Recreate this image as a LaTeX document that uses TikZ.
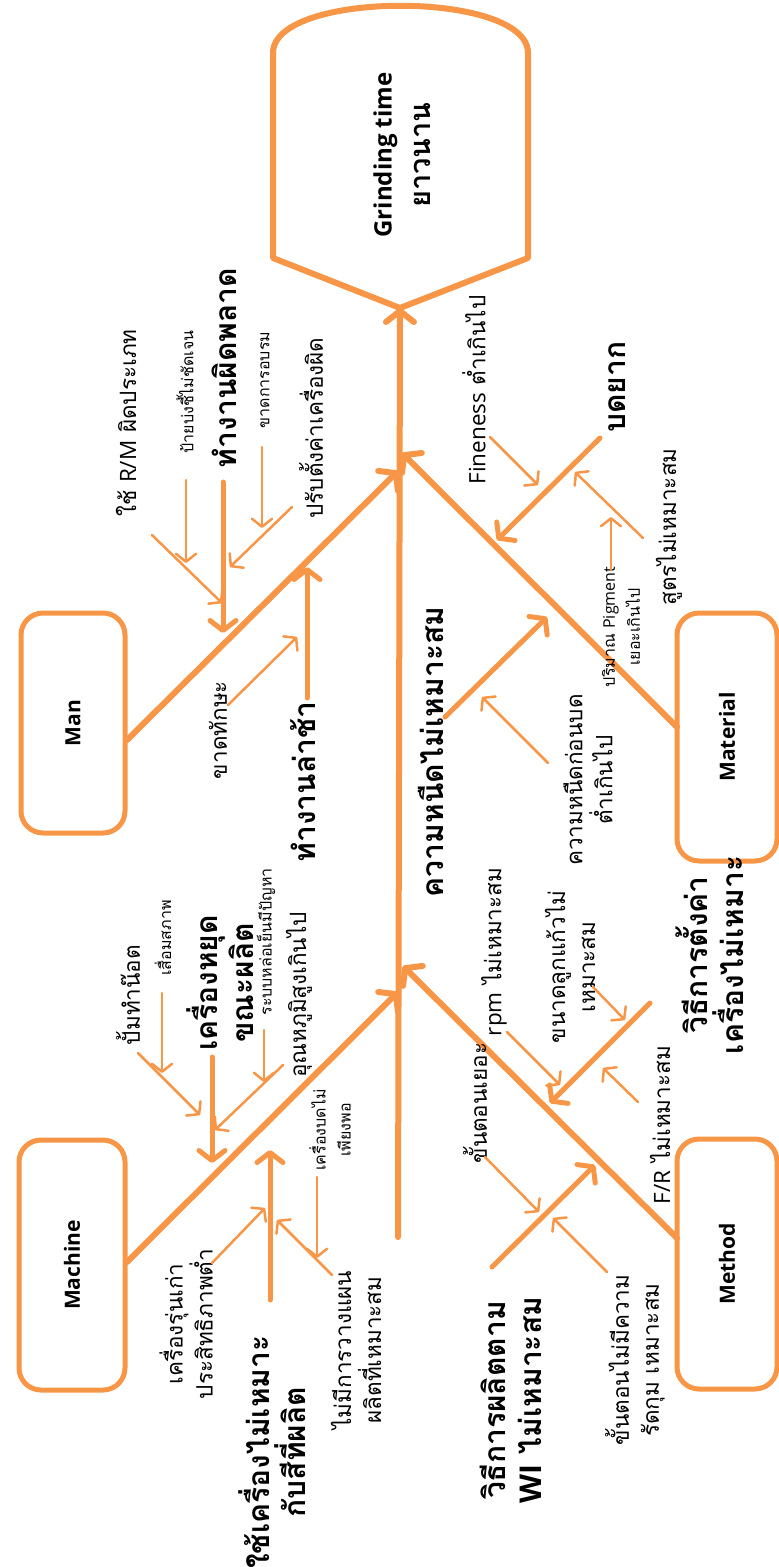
\documentclass[tikz,border=0pt]{standalone}
\usepackage{fontspec}
\setmainfont{Open Sans}
\newfontfamily\thfont[Script=Thai]{Loma}
\usetikzlibrary{arrows.meta}
\definecolor{fishor}{HTML}{F79646}
\newcommand{\lat}[1]{{\rmfamily #1}}

\begin{document}
\begin{tikzpicture}[x=1pt, y=-1pt,
          spine/.style={draw=fishor, line width=6pt, line cap=round,
                        -{Straight Barb[length=11pt,width=28pt,round]}},
          bone/.style={draw=fishor, line width=5pt, line cap=round,
                       -{Straight Barb[length=10pt,width=26pt,round]}},
          twig/.style={draw=fishor, line width=2.5pt, line cap=round,
                       -{Straight Barb[length=8pt,width=20pt,round]}},
          catbox/.style={draw=fishor, line width=5pt, rounded corners=22pt, rotate=90,
                         font=\bfseries\fontsize{21}{25}\selectfont},
          big/.style={font=\thfont\bfseries\fontsize{30}{36}\selectfont, rotate=90,
                      align=center, inner sep=0},
          mid/.style={font=\thfont\fontsize{22.5}{30}\selectfont, rotate=90,
                      align=center, inner sep=0},
          tiny/.style={font=\thfont\fontsize{16}{25}\selectfont, rotate=90,
                       align=center, inner sep=0}
        ]
        \useasboundingbox (0,0) rectangle (779,1567);

        % ---- head ----
        \coordinate (headtip) at (400,308);
        \draw[draw=fishor, line width=6pt, line join=round]
          (273,53) .. controls (273,-10) and (528,-10) .. (528,53)
          -- (528,258) -- (headtip) -- (273,258) -- cycle;
        \node[font=\bfseries\fontsize{24}{39}\selectfont, rotate=90, align=center] (head)
          at (402,155) {Grinding time\\{\thfont\bfseries\fontsize{29}{39}\selectfont ยาวนาน}};

        % ---- category boxes ----
        \node[catbox, minimum width=220pt, minimum height=104pt] (man)      at (73,723)   {Man};
        \node[catbox, minimum width=250pt, minimum height=106pt] (machine)  at (72,1265)  {Machine};
        \node[catbox, minimum width=248pt, minimum height=100pt] (material) at (727,737)  {Material};
        \node[catbox, minimum width=250pt, minimum height=100pt] (method)   at (727,1264) {Method};

        % ---- spine and main bones ----
        \coordinate (spineS) at (398,1237);
        \draw[spine] (spineS) -- (headtip);

        \coordinate (manA) at (127,740);  \coordinate (manB) at (398,471);
        \coordinate (matA) at (677,727);  \coordinate (matB) at (402,453);
        \coordinate (macA) at (127,1262); \coordinate (macB) at (398,992);
        \coordinate (metA) at (677,1238); \coordinate (metB) at (403,966);
        \draw[spine] (manA) -- (manB);
        \draw[spine] (matA) -- (matB);
        \draw[spine] (macA) -- (macB);
        \draw[spine] (metA) -- (metB);

        % ---- Man: ทำงานผิดพลาด ----
        \node[big] (wrong) at (224,368) {ทำงานผิดพลาด};
        \coordinate (m1a) at (223,482); \coordinate (m1b) at (223,633);
        \draw[bone] (m1a) -- (m1b);
        \node[mid] (rmtype) at (126,423) {ใช้ \lat{R/M} ผิดประเภท};
        \coordinate (m1c) at (152,535); \coordinate (m1d) at (222,603);
        \draw[twig] (m1c) -- (m1d);
        \node[tiny] (label) at (185,392) {ป้ายบ่งชี้ไม่ชัดเจน};
        \coordinate (m1e) at (186,480); \coordinate (m1f) at (186,563);
        \draw[twig] (m1e) -- (m1f);
        \node[tiny] (train) at (265,380) {ขาดการอบรม};
        \coordinate (m1g) at (262,447); \coordinate (m1h) at (262,528);
        \draw[twig] (m1g) -- (m1h);
        \node[mid] (setwrong) at (311,428) {ปรับตั้งค่าเครื่องผิด};
        \coordinate (m1i) at (292,507); \coordinate (m1j) at (230,567);
        \draw[twig] (m1i) -- (m1j);

        % ---- Man: ทำงานล่าช้า ----
        \node[big] (slow) at (303,782) {ทำงานล่าช้า};
        \coordinate (m2a) at (307,698); \coordinate (m2b) at (307,567);
        \draw[bone] (m2a) -- (m2b);
        \node[mid] (skill) at (218,730) {ขาดทักษะ};
        \coordinate (m2c) at (228,705); \coordinate (m2d) at (297,637);
        \draw[twig] (m2c) -- (m2d);

        % ---- Material: บดยาก ----
        \node[big] (hard) at (617,387) {บดยาก};
        \coordinate (t1a) at (600,438); \coordinate (t1b) at (497,540);
        \draw[bone] (t1a) -- (t1b);
        \node[mid] (fine) at (474,390) {\lat{Fineness} ต่ำเกินไป};
        \coordinate (t1c) at (490,437); \coordinate (t1d) at (538,485);
        \draw[twig] (t1c) -- (t1d);
        \node[mid] (recipe) at (669,527) {สูตรไม่เหมาะสม};
        \coordinate (t1e) at (643,538); \coordinate (t1f) at (575,472);
        \draw[twig] (t1e) -- (t1f);
        \node[tiny] (pigment) at (621,627) {ปริมาณ \lat{Pigment}\\เยอะเกินไป};
        \coordinate (t1g) at (611,570); \coordinate (t1h) at (611,517);
        \draw[twig] (t1g) -- (t1h);

        % ---- Material: ความหนืดไม่เหมาะสม ----
        \node[big] (visc) at (431,752) {ความหนืดไม่เหมาะสม};
        \coordinate (t2a) at (445,717); \coordinate (t2b) at (547,617);
        \draw[bone] (t2a) -- (t2b);
        \node[mid] (viscpre) at (588,780) {ความหนืดก่อนบด\\ต่ำเกินไป};
        \coordinate (t2c) at (548,763); \coordinate (t2d) at (482,697);
        \draw[twig] (t2c) -- (t2d);

        % ---- Machine: เครื่องหยุดขณะผลิต ----
        \node[big] (stop) at (220,983) {เครื่องหยุด\\ขณะผลิต};
        \coordinate (c1a) at (212,1057); \coordinate (c1b) at (212,1163);
        \draw[bone] (c1a) -- (c1b);
        \node[mid] (pump) at (128,995) {ปั้มทำน๊อต};
        \coordinate (c1c) at (138,1053); \coordinate (c1d) at (200,1115);
        \draw[twig] (c1c) -- (c1d);
        \node[tiny] (wear) at (163,938) {เสื่อมสภาพ};
        \coordinate (c1e) at (162,993); \coordinate (c1f) at (162,1073);
        \draw[twig] (c1e) -- (c1f);
        \node[tiny] (cool) at (266,942) {ระบบหล่อเย็นมีปัญหา};
        \coordinate (c1g) at (264,1030); \coordinate (c1h) at (264,1082);
        \draw[twig] (c1g) -- (c1h);
        \node[mid] (temp) at (299,995) {อุณหภูมิสูงเกินไป};
        \coordinate (c1i) at (283,1065); \coordinate (c1j) at (215,1130);
        \draw[twig] (c1i) -- (c1j);

        % ---- Machine: ใช้เครื่องไม่เหมาะกับสีที่ผลิต ----
        \node[big] (misfit) at (272,1452) {ใช้เครื่องไม่เหมาะ\\กับสีที่ผลิต};
        \coordinate (c2a) at (270,1300); \coordinate (c2b) at (270,1150);
        \draw[bone] (c2a) -- (c2b);
        \node[mid] (old) at (186,1324) {เครื่องรุ่นเก่า\\ประสิทธิภาพต่ำ};
        \coordinate (c2c) at (212,1263); \coordinate (c2d) at (265,1208);
        \draw[twig] (c2c) -- (c2d);
        \node[mid] (plan) at (356,1350) {ไม่มีการวางแผน\\ผลิตที่เหมาะสม};
        \coordinate (c2e) at (332,1275); \coordinate (c2f) at (277,1220);
        \draw[twig] (c2e) -- (c2f);
        \node[tiny] (few) at (330,1130) {เครื่องบดไม่\\เพียงพอ};
        \coordinate (c2g) at (317,1177); \coordinate (c2h) at (317,1258);
        \draw[twig] (c2g) -- (c2h);

        % ---- Method: วิธีการตั้งค่าเครื่องไม่เหมาะ ----
        \node[big] (setup) at (710,955) {วิธีการตั้งค่า\\เครื่องไม่เหมาะ};
        \coordinate (d1a) at (650,1003); \coordinate (d1b) at (550,1103);
        \draw[bone] (d1a) -- (d1b);
        \node[mid] (rpm) at (494,952) {\lat{rpm} ไม่เหมาะสม};
        \coordinate (d1c) at (507,1032); \coordinate (d1d) at (560,1085);
        \draw[twig] (d1c) -- (d1d);
        \node[mid] (bead) at (570,967) {ขนาดลูกแก้วไม่\\เหมาะสม};
        \coordinate (d1e) at (593,987); \coordinate (d1f) at (625,1020);
        \draw[twig] (d1e) -- (d1f);
        \node[mid] (fr) at (660,1125) {\lat{F/R} ไม่เหมาะสม};
        \coordinate (d1g) at (638,1102); \coordinate (d1h) at (603,1068);
        \draw[twig] (d1g) -- (d1h);

        % ---- Method: วิธีการผลิตตาม WI ไม่เหมาะสม ----
        \node[big] (wi) at (511,1400) {วิธีการผลิตตาม\\\lat{WI} ไม่เหมาะสม};
        \coordinate (d2a) at (492,1267); \coordinate (d2b) at (595,1165);
        \draw[bone] (d2a) -- (d2b);
        \node[mid] (steps) at (475,1103) {ขั้นตอนเยอะ};
        \coordinate (d2c) at (485,1157); \coordinate (d2d) at (539,1212);
        \draw[twig] (d2c) -- (d2d);
        \node[mid] (loose) at (635,1360) {ขั้นตอนไม่มีความ\\รัดกุม เหมาะสม};
        \coordinate (d2e) at (607,1272); \coordinate (d2f) at (553,1218);
        \draw[twig] (d2e) -- (d2f);

      \end{tikzpicture}
\end{document}
